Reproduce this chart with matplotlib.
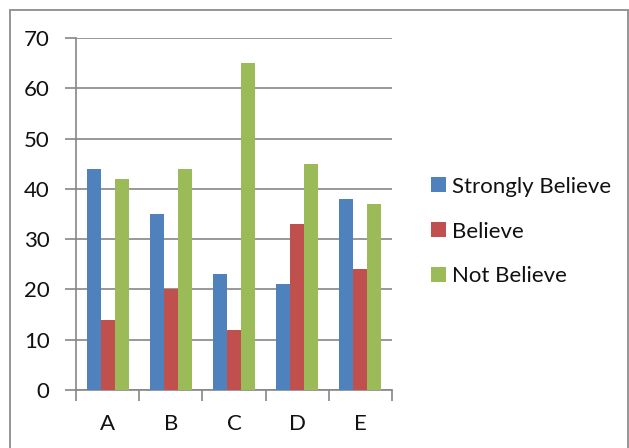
import matplotlib
matplotlib.use("Agg")
import matplotlib.pyplot as plt
import numpy as np
from matplotlib.patches import Rectangle

categories = ["A", "B", "C", "D", "E"]
series_names = ["Strongly Believe", "Believe", "Not Believe"]
strongly_believe = [44, 35, 23, 21, 38]
believe = [14, 20, 12, 33, 24]
not_believe = [42, 44, 65, 45, 37]
colors = ["#4F81BD", "#C0504D", "#9BBB59"]
yticks = [0, 10, 20, 30, 40, 50, 60, 70]

plt.rcParams['font.family'] = ['Lato', 'DejaVu Sans']
W, H = 629, 448
fig = plt.figure(figsize=(W/100, H/100), dpi=100)
fig.patches.append(Rectangle((10/W, -0.01), (628-10)/W, 1 - 10/H + 0.01, transform=fig.transFigure,
                             fill=False, edgecolor="#8c8c8c", linewidth=1.3))

ax = fig.add_axes([76/W, 1 - 390/H, (392-76)/W, (390-38)/H])
grid_c = "#868686"
x = np.arange(len(categories))
bw = 1/4.5
data = [strongly_believe, believe, not_believe]
handles = []
for i, (vals, c, name) in enumerate(zip(data, colors, series_names)):
    h = ax.bar(x + (i-1)*bw, vals, width=bw, color=c, label=name, zorder=3)
    handles.append(h)

fs = 16
ax.set_xlim(-0.5, len(categories)-0.5)
ax.set_ylim(0, 70)
ax.set_yticks(yticks)
ax.yaxis.grid(True, color=grid_c, linewidth=1.2, zorder=0)
ax.set_xticks(np.arange(len(categories)+1) - 0.5, minor=False)
ax.set_xticklabels([])
ax.set_xticks(x, minor=True)
ax.set_xticklabels(categories, minor=True)
ax.tick_params(axis='x', which='major', length=8, width=1.2, color=grid_c, direction='out')
ax.tick_params(axis='x', which='minor', length=0, pad=17, labelsize=fs, labelcolor="#111111")
ax.tick_params(axis='y', length=8, width=1.2, color=grid_c, pad=11, labelsize=fs, labelcolor="#111111")
for s in ["top", "right"]:
    ax.spines[s].set_visible(False)
for s in ["left", "bottom"]:
    ax.spines[s].set_color(grid_c)
    ax.spines[s].set_linewidth(1.2)

leg = fig.legend(handles=handles, labels=series_names, loc="center left",
                 bbox_to_anchor=(422/W, 1 - 231.5/H), frameon=False, fontsize=fs,
                 handlelength=0.68, handleheight=0.68, handletextpad=0.25, labelspacing=1.12,
                 borderaxespad=0, labelcolor="#111111")
fig.savefig("out.png", dpi=100)
